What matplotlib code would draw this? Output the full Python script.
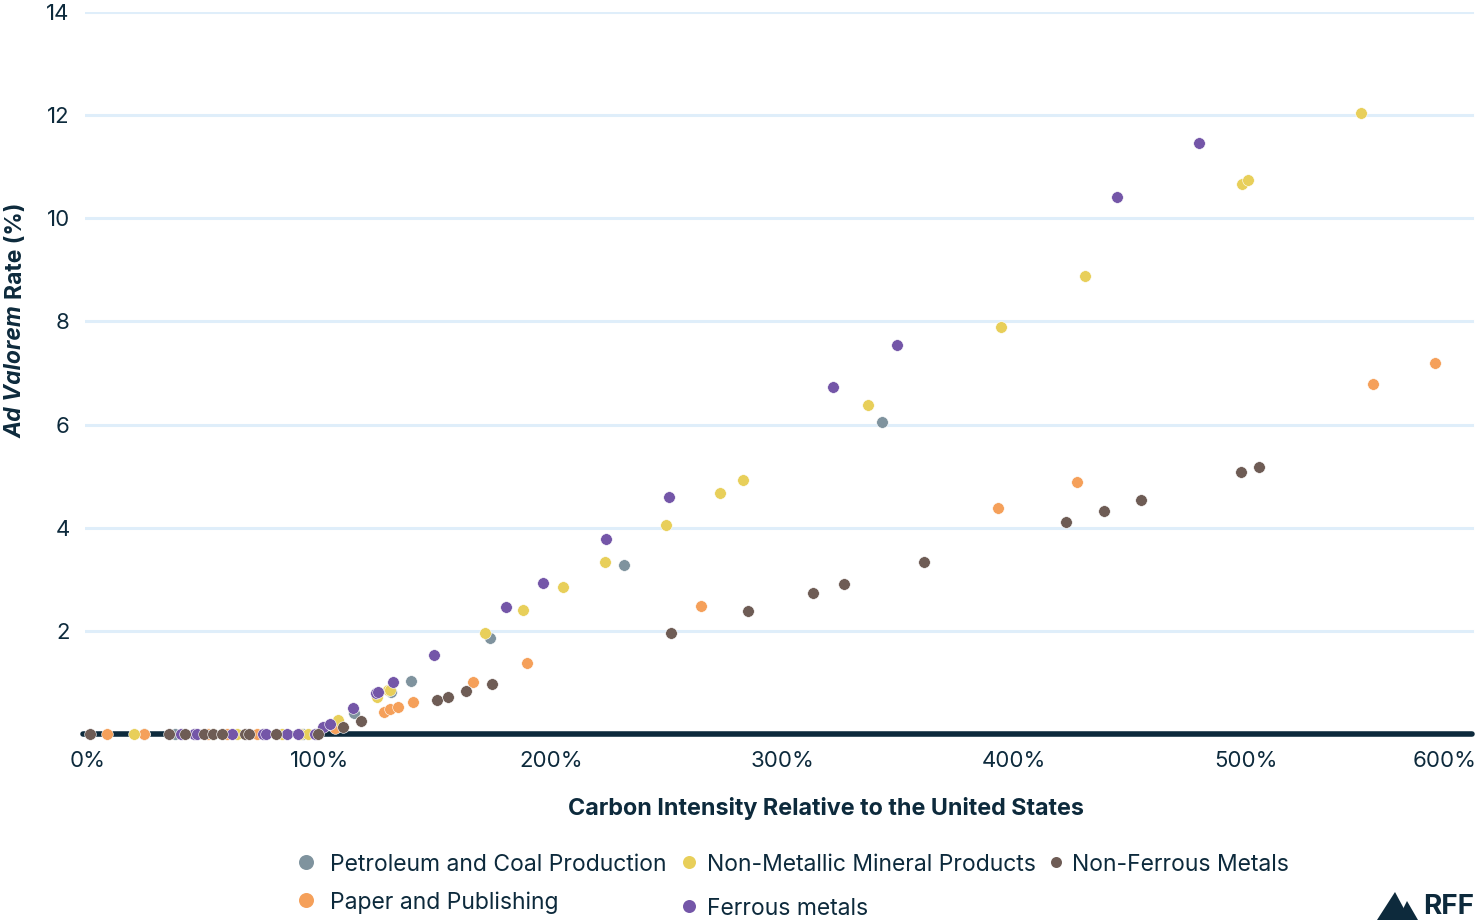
import matplotlib
matplotlib.use("Agg")
import matplotlib.pyplot as plt
from matplotlib.patches import Polygon
from matplotlib.lines import Line2D

plt.rcParams['font.family'] = ['Inter', 'DejaVu Sans']

# ---- data (x: carbon intensity relative to US, %; y: ad valorem rate, %) ----
petro_x = [24, 37.5, 93, 115, 131, 139.5, 173.7, 231.5, 343]
petro_y = [0, 0, 0, 0.41, 0.81, 1.03, 1.86, 3.28, 6.05]

paper_x = [8, 24, 52, 60, 73, 106.7, 128, 130.5, 134, 140.4, 166.3, 189.6, 265, 393, 427, 555, 582]
paper_y = [0, 0, 0, 0, 0, 0.12, 0.43, 0.48, 0.52, 0.62, 1.01, 1.38, 2.48, 4.38, 4.89, 6.79, 7.20]

nonmet_x = [20, 54, 64.5, 84, 91.5, 95, 108, 124.8, 129.6, 130.5, 171.5, 187.9, 205, 223.3,
            249.7, 273, 283, 337, 394.4, 430.7, 498.5, 501, 550]
nonmet_y = [0, 0, 0, 0, 0, 0, 0.27, 0.72, 0.85, 0.85, 1.96, 2.41, 2.85, 3.34,
            4.05, 4.68, 4.93, 6.38, 7.90, 8.88, 10.67, 10.75, 12.05]

ferrous_x = [40, 46, 47, 62, 75.7, 77, 86, 90.7, 98, 101.5, 104.5, 114.5, 124.4, 125.3,
             131.7, 149.5, 180.6, 196.5, 223.8, 251, 322, 349.5, 444.5, 480]
ferrous_y = [0, 0, 0, 0, 0, 0, 0, 0, 0, 0.14, 0.19, 0.50, 0.80, 0.82,
             1.01, 1.53, 2.46, 2.93, 3.78, 4.60, 6.73, 7.55, 10.42, 11.46]

nonfer_x = [1, 35, 42, 50, 54, 58, 68, 69.5, 81, 99.4, 110, 118, 150.8, 155.5, 163.3, 174.5,
            252, 285, 313, 326.5, 361, 422.5, 439, 455, 498, 506]
nonfer_y = [0, 0, 0, 0, 0, 0, 0, 0, 0, 0, 0.14, 0.25, 0.66, 0.72, 0.83, 0.97,
            1.96, 2.39, 2.74, 2.91, 3.34, 4.11, 4.33, 4.54, 5.08, 5.18]

series_names = ["Petroleum and Coal Production", "Paper and Publishing",
                "Non-Metallic Mineral Products", "Ferrous metals", "Non-Ferrous Metals"]
series_colors = ["#7f939e", "#f5a05a", "#e8cf5a", "#7456a8", "#6e5c55"]
series_data = [(petro_x, petro_y), (paper_x, paper_y), (nonmet_x, nonmet_y),
               (ferrous_x, ferrous_y), (nonfer_x, nonfer_y)]

x_ticks = [0, 100, 200, 300, 400, 500, 600]
x_tick_labels = ["0%", "100%", "200%", "300%", "400%", "500%", "600%"]
y_ticks = [2, 4, 6, 8, 10, 12, 14]

NAVY = "#0d2a3c"
GRID = "#dfeefa"

W, H = 1480, 921
fig = plt.figure(figsize=(W / 100, H / 100), dpi=100)
fig.patch.set_facecolor("white")

ax_left, ax_right = 85 / W, 1477 / W
ax_top, ax_bottom = 1 - 12 / H, 1 - 734 / H
ax = fig.add_axes([ax_left, ax_bottom, ax_right - ax_left, ax_top - ax_bottom])
ax.set_xlim(-1.3, 600)
ax.set_ylim(0, 14)

for s in ax.spines.values():
    s.set_visible(False)

ax.set_yticks(y_ticks)
ax.set_yticklabels([str(v) for v in y_ticks])
ax.set_xticks(x_ticks)
ax.set_xticklabels(x_tick_labels)
ax.tick_params(axis='both', length=0, labelsize=16, labelcolor=NAVY)
ax.tick_params(axis='y', pad=11)
ax.tick_params(axis='x', pad=12)
xl = ax.get_xticklabels()
xl[-1].set_horizontalalignment('right')

for yv in y_ticks:
    ax.axhline(yv, color=GRID, lw=2.2, zorder=0, xmax=(1472 - 85) / (1477 - 85))
ax.plot([-2.2, 598], [0, 0], color=NAVY, lw=4, zorder=1, clip_on=False,
        solid_capstyle='round')

for (xs, ys), c in zip(series_data, series_colors):
    ax.scatter(xs, ys, s=70, color=c, edgecolors='white', linewidths=0.4,
               zorder=3, clip_on=False)

fig.text(826 / W, 1 - 808 / H, "Carbon Intensity Relative to the United States",
         ha='center', va='center', fontsize=16.8, fontweight='bold', color=NAVY)

# y label with italic part
t1 = fig.text(16 / W, 1 - 438 / H, "Ad Valorem", rotation=90, ha='center', va='bottom',
              fontsize=16.5, fontweight='bold', fontstyle='italic', color=NAVY)
fig.canvas.draw()
bb = t1.get_window_extent(fig.canvas.get_renderer())
top_px = bb.y1
fig.text(16 / W, (top_px + 6) / H, "Rate (%)", rotation=90, ha='center', va='bottom',
         fontsize=16.5, fontweight='bold', color=NAVY)

# legend (manual)
legend_items = [
    (0, 306, 862, 15, 24),
    (1, 306, 900, 15, 24),
    (2, 689, 862, 13, 18),
    (3, 689, 906, 13, 18),
    (4, 1056, 862, 11, 16),
]
for idx, mx, my, d, gap in legend_items:
    fig.add_artist(Line2D([mx / W], [1 - my / H], marker='o', markersize=d * 0.72,
                          color=series_colors[idx], markeredgewidth=0, linestyle='None'))
    fig.text((mx + gap) / W, 1 - my / H, series_names[idx], ha='left', va='center_baseline',
             fontsize=16.5, color=NAVY)

# RFF logo
big = Polygon([(1377 / W, 1 - 920 / H), (1395 / W, 1 - 892 / H), (1410 / W, 1 - 920 / H)],
              closed=True, transform=fig.transFigure, facecolor=NAVY, edgecolor='none')
small = Polygon([(1401 / W, 1 - 913 / H), (1407 / W, 1 - 901 / H), (1418 / W, 1 - 920 / H),
                 (1405 / W, 1 - 920 / H)],
                closed=True, transform=fig.transFigure, facecolor=NAVY, edgecolor='none')
fig.add_artist(big)
fig.add_artist(small)
fig.text(1423 / W, 1 / H, "RFF", ha='left', va='bottom', fontsize=20,
         fontweight='bold', color=NAVY)

fig.savefig("out.png", dpi=100, facecolor="white")
